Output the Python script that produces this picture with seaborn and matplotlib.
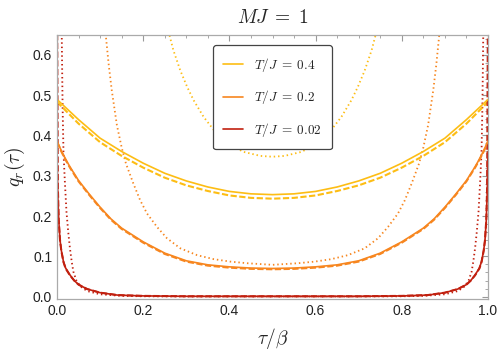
import numpy as np
import pandas as pd
import matplotlib
matplotlib.use("Agg")
import matplotlib.pyplot as plt
from matplotlib.lines import Line2D
from matplotlib.ticker import MultipleLocator
import seaborn as sns

# values, left half only (the curves are symmetric about tau/beta = 0.5)
temps = ["0.4", "0.2", "0.02"]
colors = ["#FDBD14", "#F7861F", "#C1200F"]

# T/J = 0.4
x_y_solid = [0, 0.05, 0.1, 0.15, 0.2, 0.25, 0.3, 0.35, 0.4, 0.45, 0.5]
y_y_solid = [0.489, 0.439, 0.393, 0.360, 0.331, 0.306, 0.287, 0.272, 0.261, 0.255, 0.253]
x_y_dash = [0, 0.05, 0.1, 0.15, 0.2, 0.25, 0.3, 0.35, 0.4, 0.45, 0.5]
y_y_dash = [0.483, 0.429, 0.383, 0.349, 0.320, 0.295, 0.276, 0.262, 0.251, 0.245, 0.243]
x_y_dot = [0.25, 0.261, 0.270, 0.286, 0.302, 0.317, 0.340, 0.364, 0.395, 0.433, 0.472, 0.5]
y_y_dot = [0.70, 0.648, 0.611, 0.561, 0.520, 0.487, 0.446, 0.413, 0.380, 0.359, 0.349, 0.347]

# T/J = 0.2
x_o_solid = [0, 0.01, 0.02, 0.03, 0.05, 0.075, 0.1, 0.125, 0.15, 0.2, 0.25, 0.3, 0.35, 0.4, 0.45, 0.5]
y_o_solid = [0.386, 0.362, 0.341, 0.322, 0.288, 0.254, 0.222, 0.193, 0.170, 0.136, 0.108, 0.089,
             0.079, 0.074, 0.071, 0.070]
x_o_dash = [0, 0.01, 0.02, 0.03, 0.05, 0.075, 0.1, 0.125, 0.15, 0.2, 0.25, 0.3, 0.35, 0.4, 0.45, 0.5]
y_o_dash = [0.384, 0.360, 0.339, 0.320, 0.286, 0.252, 0.220, 0.191, 0.168, 0.134, 0.106, 0.087,
            0.077, 0.072, 0.069, 0.068]
x_o_dot = [0.105, 0.113, 0.12, 0.127, 0.139, 0.15, 0.16, 0.177, 0.193, 0.209, 0.232, 0.255,
           0.286, 0.325, 0.364, 0.402, 0.441, 0.5]
y_o_dot = [0.75, 0.65, 0.575, 0.512, 0.425, 0.37, 0.33, 0.281, 0.239, 0.206, 0.173, 0.145,
           0.120, 0.103, 0.093, 0.087, 0.083, 0.079]

# T/J = 0.02
x_r_solid = [0, 0.002, 0.004, 0.007, 0.01, 0.015, 0.02, 0.03, 0.04, 0.05, 0.07, 0.1, 0.14, 0.2,
             0.3, 0.4, 0.5]
y_r_solid = [0.36, 0.25, 0.19, 0.14, 0.115, 0.087, 0.071, 0.054, 0.040, 0.030, 0.019, 0.010,
             0.004, 0.002, 0.001, 0.001, 0.001]
x_r_dash = [0, 0.002, 0.004, 0.007, 0.01, 0.015, 0.02, 0.03, 0.04, 0.05, 0.07, 0.1, 0.14, 0.2,
            0.3, 0.4, 0.5]
y_r_dash = [0.75, 0.27, 0.19, 0.14, 0.114, 0.086, 0.070, 0.053, 0.040, 0.030, 0.019, 0.010,
            0.004, 0.002, 0.001, 0.001, 0.001]
x_r_dot = [0.009, 0.011, 0.013, 0.015, 0.018, 0.022, 0.026, 0.03, 0.034, 0.038, 0.045, 0.055,
           0.07, 0.1, 0.15, 0.2, 0.3, 0.4, 0.5]
y_r_dot = [0.8, 0.65, 0.47, 0.36, 0.29, 0.21, 0.161, 0.12, 0.088, 0.062, 0.040, 0.025, 0.014,
           0.006, 0.002, 0.001, 0.0005, 0.0005, 0.0005]

series = [
    ("0.4", "exact", x_y_solid, y_y_solid), ("0.4", "approx1", x_y_dash, y_y_dash),
    ("0.4", "approx2", x_y_dot, y_y_dot),
    ("0.2", "exact", x_o_solid, y_o_solid), ("0.2", "approx1", x_o_dash, y_o_dash),
    ("0.2", "approx2", x_o_dot, y_o_dot),
    ("0.02", "exact", x_r_solid, y_r_solid), ("0.02", "approx1", x_r_dash, y_r_dash),
    ("0.02", "approx2", x_r_dot, y_r_dot),
]

rows = []
for T, kind, xs, ys in series:
    xs = list(xs)
    ys = list(ys)
    # mirror the left half onto the right half
    xs_full = xs + [1 - v for v in xs[::-1][1:]]
    ys_full = ys + ys[::-1][1:]
    for a, b in zip(xs_full, ys_full):
        rows.append({"tau": a, "q": b, "T": T, "kind": kind})
df = pd.DataFrame(rows)

sns.set_style("white")
plt.rcParams["mathtext.fontset"] = "cm"
plt.rcParams["font.family"] = ["Liberation Sans", "DejaVu Sans"]

fig = plt.figure(figsize=(4.98, 3.56), dpi=100)
ax = fig.add_axes([57 / 498, 1 - 299 / 356, 431 / 498, 264.5 / 356])

pal = dict(zip(temps, colors))
dash_map = {"exact": "", "approx1": (3, 1.2), "approx2": (0.8, 1.6)}
for kind, lw in [("approx2", 1.3), ("approx1", 1.5), ("exact", 1.2)]:
    sub = df[df.kind == kind]
    sns.lineplot(data=sub, x="tau", y="q", hue="T", hue_order=temps, palette=pal,
                 estimator=None, sort=False, units="T", legend=False, ax=ax, lw=lw,
                 dashes=False)
    for ln in ax.lines[-3:]:
        if dash_map[kind]:
            ln.set_dashes(dash_map[kind])

ax.set_xlim(0, 1)
ax.set_ylim(-0.0057, 0.65)
ax.xaxis.set_major_locator(MultipleLocator(0.2))
ax.xaxis.set_minor_locator(MultipleLocator(0.05))
ax.yaxis.set_major_locator(MultipleLocator(0.1))
ax.yaxis.set_minor_locator(MultipleLocator(0.02))
ax.xaxis.set_major_formatter(matplotlib.ticker.FormatStrFormatter("%.1f"))
ax.yaxis.set_major_formatter(matplotlib.ticker.FormatStrFormatter("%.1f"))
ax.tick_params(which="both", direction="in", top=True, right=True, color="#999999",
               labelsize=10, labelcolor="#222222")
ax.tick_params(which="major", length=4, width=0.8)
ax.tick_params(which="minor", length=2, width=0.6)
for s in ax.spines.values():
    s.set_color("#aaaaaa")
    s.set_linewidth(0.9)

ax.set_xlabel(r"$\tau/\beta$", fontsize=14, labelpad=6)
ax.set_ylabel(r"$q_r(\tau)$", fontsize=14, labelpad=4)
ax.set_title(r"$MJ\;=\;1$", fontsize=14, pad=8)

handles = [Line2D([0], [0], color=c, lw=1.2) for c in colors]
labels = [r"$T/J\;=\;%s$" % t for t in temps]
leg = ax.legend(handles, labels, loc="upper center", bbox_to_anchor=(0.5, 0.985),
                fontsize=9.5, frameon=True, fancybox=True, framealpha=1,
                edgecolor="#444444", handlelength=1.5, labelspacing=1.1,
                borderpad=0.8, handletextpad=0.8)
leg.get_frame().set_linewidth(0.9)

fig.savefig("out.png", dpi=100)
